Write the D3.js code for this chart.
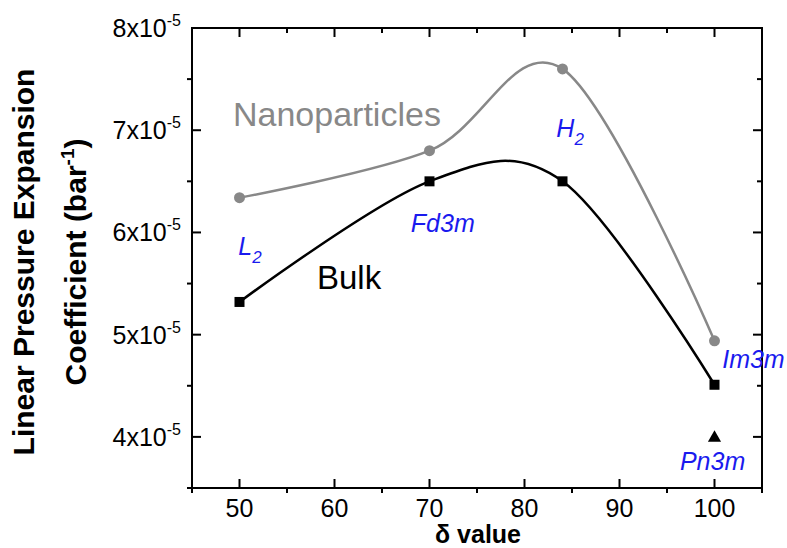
<!DOCTYPE html>
<html>
<head>
<meta charset="utf-8">
<script src="https://cdn.jsdelivr.net/npm/d3@7"></script>
<style>
  html, body { margin: 0; padding: 0; background: #fff; }
  svg { display: block; font-family: "Liberation Sans", Arial, sans-serif; }
</style>
</head>
<body>
<svg id="chart" width="787" height="548"></svg>
<script>
// ---- data ----
const deltaValues = [50, 70, 84, 100];
const nanoValues = [6.34e-5, 6.80e-5, 7.60e-5, 4.94e-5];
const bulkValues = [5.32e-5, 6.50e-5, 6.50e-5, 4.51e-5];
const pn3mPoint = [100, 4.0e-5];
const xTicks = [50, 60, 70, 80, 90, 100];
const xMinorTicks = [45, 55, 65, 75, 85, 95, 105];
const yTicks = [4e-5, 5e-5, 6e-5, 7e-5, 8e-5];
const yTickMantissa = ["4", "5", "6", "7", "8"];
const yMinorTicks = [3.5e-5, 4.5e-5, 5.5e-5, 6.5e-5, 7.5e-5];
const phaseLabels = [
  {text: "L", sub: "2", x: 51.1, y: 5.78e-5},
  {text: "Fd3m", sub: null, x: 71.4, y: 6.0e-5},
  {text: "H", sub: "2", x: 84.8, y: 6.93e-5},
  {text: "Im3m", sub: null, x: 104.1, y: 4.67e-5},
  {text: "Pn3m", sub: null, x: 99.8, y: 3.676e-5}
];

(function () {
// ---- layout ----
const svg = d3.select("#chart");
const pl = 192, pr = 762, pt = 28, pb = 488;
const x = d3.scaleLinear().domain([45, 105]).range([pl, pr]);
const y = d3.scaleLinear().domain([3.5e-5, 8e-5]).range([pb, pt]);
const blue = "#1a1aee";
const gray = "#888888";

// ---- curves ----
const lineGen = d3.line().x(d => x(d[0])).y(d => y(d[1])).curve(d3.curveCatmullRom.alpha(0));
const nano = deltaValues.map((d, i) => [d, nanoValues[i]]);
const bulk = deltaValues.map((d, i) => [d, bulkValues[i]]);

svg.append("path").attr("d", lineGen(nano)).attr("fill", "none")
  .attr("stroke", gray).attr("stroke-width", 2.5);
svg.append("path").attr("d", lineGen(bulk)).attr("fill", "none")
  .attr("stroke", "#000").attr("stroke-width", 2.5);

svg.selectAll("circle.nano").data(nano).enter().append("circle")
  .attr("cx", d => x(d[0])).attr("cy", d => y(d[1])).attr("r", 5.5).attr("fill", gray);
svg.selectAll("rect.bulk").data(bulk).enter().append("rect")
  .attr("x", d => x(d[0]) - 5).attr("y", d => y(d[1]) - 5)
  .attr("width", 10).attr("height", 10).attr("fill", "#000");
svg.append("path")
  .attr("d", d3.symbol().type(d3.symbolTriangle).size(75)())
  .attr("transform", `translate(${x(pn3mPoint[0])},${y(pn3mPoint[1]) + 1})`)
  .attr("fill", "#000");

// ---- axes ----
const ax = svg.append("g").attr("stroke", "#000").attr("stroke-width", 2).attr("fill", "none");
ax.append("rect").attr("x", pl).attr("y", pt).attr("width", pr - pl).attr("height", pb - pt);
xTicks.forEach(t => ax.append("line").attr("x1", x(t)).attr("x2", x(t)).attr("y1", pb).attr("y2", pb - 9));
xMinorTicks.forEach(t => ax.append("line").attr("x1", x(t)).attr("x2", x(t)).attr("y1", pb).attr("y2", pb + 5));
xTicks.forEach(t => ax.append("line").attr("x1", x(t)).attr("x2", x(t)).attr("y1", pt).attr("y2", pt + 9));
xMinorTicks.forEach(t => ax.append("line").attr("x1", x(t)).attr("x2", x(t)).attr("y1", pt).attr("y2", pt + 5));
yTicks.forEach(t => ax.append("line").attr("x1", pl).attr("x2", pl + 9).attr("y1", y(t)).attr("y2", y(t)));
yMinorTicks.forEach(t => ax.append("line").attr("x1", pl).attr("x2", pl - 5).attr("y1", y(t)).attr("y2", y(t)));
yTicks.forEach(t => ax.append("line").attr("x1", pr).attr("x2", pr - 9).attr("y1", y(t)).attr("y2", y(t)));
yMinorTicks.forEach(t => ax.append("line").attr("x1", pr).attr("x2", pr - 5).attr("y1", y(t)).attr("y2", y(t)));

// tick labels
svg.selectAll("text.xt").data(xTicks).enter().append("text")
  .attr("x", d => x(d)).attr("y", 517).attr("text-anchor", "middle")
  .attr("font-size", 25).text(d => d);
yTicks.forEach((t, i) => {
  const txt = svg.append("text").attr("x", 181).attr("y", y(t) + 9)
    .attr("text-anchor", "end").attr("font-size", 25);
  txt.append("tspan").text(yTickMantissa[i] + "x10");
  txt.append("tspan").attr("dy", -11).attr("font-size", 16).text("-5");
});

// axis titles
svg.append("text").attr("x", 478).attr("y", 543).attr("text-anchor", "middle")
  .attr("font-size", 25).attr("font-weight", "bold").text("δ value");
const yt = svg.append("g").attr("font-size", 30).attr("font-weight", "bold").attr("text-anchor", "middle");
yt.append("text").attr("transform", `translate(34,262) rotate(-90)`).text("Linear Pressure Expansion");
const yt2 = yt.append("text").attr("transform", `translate(86,262) rotate(-90)`);
yt2.append("tspan").text("Coefficient (bar");
yt2.append("tspan").attr("dy", -12).attr("font-size", 19).text("-1");
yt2.append("tspan").attr("dy", 12).text(")");

// series labels
svg.append("text").attr("x", 233).attr("y", 126).attr("font-size", 34).attr("fill", gray).text("Nanoparticles");
svg.append("text").attr("x", 317).attr("y", 289).attr("font-size", 33).attr("fill", "#000").text("Bulk");

// phase labels
phaseLabels.forEach(p => {
  const t = svg.append("text").attr("x", x(p.x)).attr("y", y(p.y))
    .attr("text-anchor", "middle").attr("font-size", 25).attr("font-style", "italic").attr("fill", blue);
  t.append("tspan").text(p.text);
  if (p.sub) t.append("tspan").attr("dy", 8).attr("font-size", 17).text(p.sub);
});
})();
</script>
</body>
</html>
